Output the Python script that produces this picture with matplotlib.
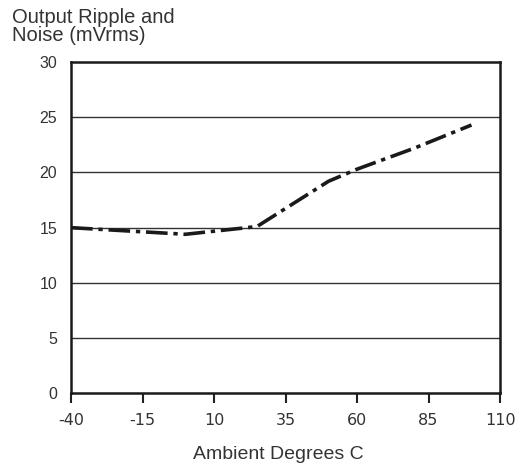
import matplotlib
matplotlib.use("Agg")
import matplotlib.pyplot as plt

temps = [-40, -10, 0, 25, 50, 60, 80, 100]
ripple = [15.0, 14.55, 14.4, 15.1, 19.2, 20.3, 22.2, 24.3]

x_ticks = [-40, -15, 10, 35, 60, 85, 110]
y_ticks = [0, 5, 10, 15, 20, 25, 30]

plt.rcParams['font.family'] = ['Liberation Sans', 'DejaVu Sans']

fig = plt.figure(figsize=(5.22, 4.67), dpi=100)
ax = fig.add_axes([0.136, 0.158, 0.822, 0.709])

for y in y_ticks[1:-1]:
    ax.axhline(y, color='#333333', lw=1.0, zorder=1)

ax.plot(temps, ripple, color='#1a1a1a', lw=2.6, dashes=(6, 1.6, 1.2, 1.6), zorder=3)

ax.set_xlim(-40, 110)
ax.set_ylim(0, 30)
ax.set_xticks(x_ticks)
ax.set_yticks(y_ticks)
ax.set_xticklabels([str(v) for v in x_ticks], fontsize=11.5,
                   family=['Liberation Sans Narrow', 'DejaVu Sans Condensed', 'DejaVu Sans'])
ax.set_yticklabels([str(v) for v in y_ticks], fontsize=11.5)
ax.tick_params(axis='x', direction='out', length=7, width=1.5, color='#222222', pad=7, labelcolor='#333333')
ax.tick_params(axis='y', length=0, pad=10, labelcolor='#333333')

for s in ax.spines.values():
    s.set_linewidth(1.8)
    s.set_color('#1a1a1a')

ax.set_xlabel('Ambient Degrees C', fontsize=14, color='#333333')
ax.xaxis.set_label_coords(0.483, -0.158)
fig.text(0.023, 0.903, 'Output Ripple and\nNoise (mVrms)', fontsize=14.5,
         color='#333333', va='bottom', ha='left', linespacing=0.92)

fig.savefig('out.png', dpi=100)
